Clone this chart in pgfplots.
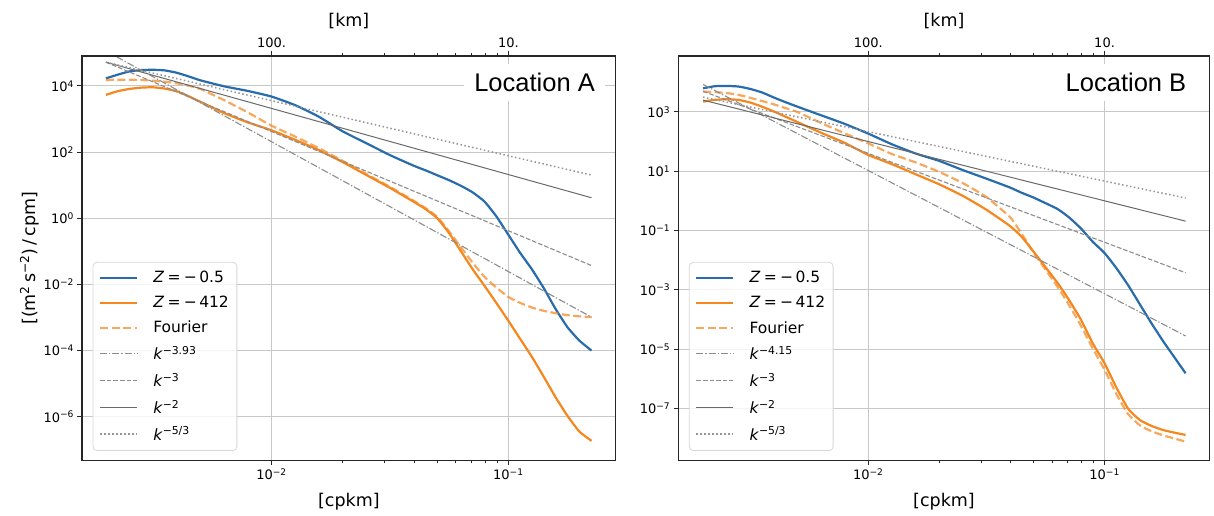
\documentclass[border=0pt]{standalone}
\usepackage{fontspec}
\setmainfont{DejaVu Sans}
\newfontfamily\locfont{Liberation Sans}
\usepackage{pgfplots}
\usepackage{pgfplotstable}
\pgfplotsset{compat=1.18}

\definecolor{cblue}{RGB}{40,108,172}
\definecolor{corange}{RGB}{245,135,30}
\definecolor{gridc}{RGB}{200,200,200}
\definecolor{gdashdot}{RGB}{140,140,140}
\definecolor{gdash}{RGB}{140,140,140}
\definecolor{gsolid}{RGB}{105,105,105}
\definecolor{gdot}{RGB}{150,150,150}
\definecolor{legc}{RGB}{215,215,215}

\pgfplotstableread{
x blue orange fourier
0.002 1.698e4 5.370e3 1.514e4
0.002239 2.188e4 6.918e3 1.549e4
0.002512 2.754e4 8.128e3 1.549e4
0.002818 3.020e4 8.913e3 1.514e4
0.003162 3.090e4 9.120e3 1.445e4
0.003548 2.951e4 8.318e3 1.349e4
0.003981 2.512e4 6.918e3 1.202e4
0.004467 1.950e4 4.898e3 1.023e4
0.005012 1.479e4 3.311e3 8.128e3
0.006310 9.772e3 1.514e3 3.715e3
0.007943 7.079e3 794.3 1.585e3
0.01 4.786e3 457.1 631.0
0.012589 2.630e3 234.4 295.1
0.015849 1.175e3 114.8 131.8
0.019953 426.6 50.12 54.95
0.025119 186.2 20.42 21.88
0.031623 81.28 8.318 8.913
0.039811 38.90 3.162 3.388
0.044668 28.18 1.905 2.042
0.050119 19.95 1.0 1.096
0.056234 14.13 0.3548 0.3981
0.063096 9.550 0.1 0.1318
0.070795 6.026 0.02818 0.04467
0.079433 3.162 8.913e-3 0.01660
0.089125 1.122 2.692e-3 7.943e-3
0.1 0.3162 7.943e-4 4.169e-3
0.112202 0.08913 2.239e-4 2.754e-3
0.125893 0.02818 6.310e-5 1.995e-3
0.141254 7.586e-3 1.585e-5 1.585e-3
0.158489 1.778e-3 3.802e-6 1.349e-3
0.177828 5.012e-4 1.047e-6 1.175e-3
0.199526 1.995e-4 3.548e-7 1.084e-3
0.224388 1.0e-4 1.862e-7 1.023e-3
}\tableA

\pgfplotstableread{
x blue orange fourier
0.002 6.310e3 2.239e3 4.898e3
0.002239 7.413e3 2.570e3 4.677e3
0.002512 7.586e3 2.692e3 4.365e3
0.002818 7.244e3 2.570e3 3.802e3
0.003162 6.026e3 2.089e3 3.020e3
0.003548 4.571e3 1.514e3 2.344e3
0.003981 3.090e3 1.047e3 1.820e3
0.004467 2.138e3 691.8 1.349e3
0.005012 1.514e3 457.1 1.0e3
0.006310 776.2 199.5 426.6
0.007943 398.1 91.20 190.5
0.01 186.2 35.48 87.10
0.012589 81.28 17.38 38.02
0.015849 39.81 7.943 19.95
0.019953 22.39 3.631 9.550
0.025119 10.96 1.479 3.981
0.031623 5.623 0.5012 1.349
0.039811 2.818 0.1413 0.2818
0.044668 1.862 0.06026 0.07586
0.050119 1.288 0.01905 0.01778
0.063096 0.5370 1.738e-3 1.288e-3
0.070795 0.2754 4.467e-4 3.020e-4
0.079433 0.1175 9.772e-5 6.166e-5
0.089125 0.04169 1.549e-5 1.047e-5
0.1 0.01738 3.311e-6 1.995e-6
0.112202 5.370e-3 5.012e-7 3.020e-7
0.125893 1.413e-3 9.550e-8 6.310e-8
0.141254 3.162e-4 3.981e-8 2.630e-8
0.158489 7.079e-5 2.512e-8 1.660e-8
0.177828 1.738e-5 1.820e-8 1.202e-8
0.199526 4.677e-6 1.479e-8 9.333e-9
0.220293 1.514e-6 1.259e-8 7.413e-9
}\tableB

\tikzset{
  sblue/.style={cblue, line width=2.2pt},
  sorange/.style={corange, line width=2.2pt},
  sfourier/.style={corange, draw opacity=0.72, line width=2.2pt, dash pattern=on 8pt off 3.5pt},
  sdashdot/.style={gdashdot, line width=1.1pt, dash pattern=on 7pt off 2pt on 1.3pt off 2pt},
  sdash/.style={gdash, line width=1.1pt, dash pattern=on 4.6pt off 2pt},
  ssolid/.style={gsolid, line width=1.0pt},
  sdot/.style={gdot, line width=1.5pt, dash pattern=on 1.5pt off 2.5pt},
}

\pgfplotsset{
  every axis/.append style={
    scale only axis,
    axis line style={line width=1.3pt, black!85},
    tick align=outside,
    major tick length=4.5pt, minor tick length=2.6pt,
    every tick/.style={black!85, line width=1pt},
    tick label style={font=\fontsize{13}{15}\selectfont},
    every axis label/.append style={font=\fontsize{17.5}{20}\selectfont},
  },
  legend image code/.code={\draw[#1] (0pt,0pt) -- (37pt,0pt);},
}

\begin{document}
\begin{tikzpicture}
\useasboundingbox (0,0) rectangle (1214pt,515pt);

% ---------------- Location A ----------------
\begin{axis}[at={(82pt,54.3pt)}, anchor=south west,
  width=533.7pt, height=404.7pt,
  xmode=log, ymode=log,
  xtick pos=bottom, ytick pos=left,
  yminorticks=false,
  grid=major, major grid style={gridc, line width=1pt},
  xmin=1.585e-3, xmax=0.2838, ymin=4.677e-8, ymax=8.054e4,
  xtick={0.01,0.1}, xticklabels={10\textsuperscript{−2},10\textsuperscript{−1}},
  ytick={1e4,1e2,1,1e-2,1e-4,1e-6},
  yticklabels={10\textsuperscript{4},10\textsuperscript{2},10\textsuperscript{0},10\textsuperscript{−2},10\textsuperscript{−4},10\textsuperscript{−6}},
  xlabel={[cpkm]},
  xlabel style={at={(axis description cs:0.5,-0.1013)}, anchor=center},
  ylabel={[(m\textsuperscript{2}\,s\textsuperscript{−2})\,/\,cpm]},
  ylabel style={at={(axis description cs:-0.0984,0.5)}, anchor=center},
  legend cell align=left,
  legend style={at={(0.02,0.024)}, anchor=south west,
    draw=legc, line width=0.8pt, rounded corners=4pt,
    fill=white, fill opacity=0.8, text opacity=1, draw opacity=1,
    font=\fontsize{15.5}{18}\selectfont,
    inner xsep=6pt, inner ysep=7pt, row sep=8pt, column sep=13pt},
]
\addplot[sblue, smooth, tension=0.3] table[x=x, y=blue] {\tableA};
\addlegendentry{\textit{Z}\hspace{0.22em}=\hspace{0.22em}−\hspace{0.15em}0.5}
\addplot[sorange, smooth, tension=0.3] table[x=x, y=orange] {\tableA};
\addlegendentry{\textit{Z}\hspace{0.22em}=\hspace{0.22em}−\hspace{0.15em}412}
\addplot[sfourier, smooth, tension=0.3] table[x=x, y=fourier] {\tableA};
\addlegendentry{Fourier}
\addplot[sdashdot] coordinates {(0.002,1.148e5) (0.224388,1.023e-3)};
\addlegendentry{\textit{k}\textsuperscript{−3.93}}
\addplot[sdash] coordinates {(0.002,5.248e4) (0.224388,0.03715)};
\addlegendentry{\textit{k}\textsuperscript{−3}}
\addplot[ssolid] coordinates {(0.002,5.248e4) (0.224388,4.169)};
\addlegendentry{\textit{k}\textsuperscript{−2}}
\addplot[sdot] coordinates {(0.002,5.248e4) (0.224388,20.18)};
\addlegendentry{\textit{k}\textsuperscript{−5/3}}
\node[anchor=base east, fill=white, inner xsep=10pt, inner ysep=9pt,
  font=\locfont\fontsize{25.5}{30}\selectfont] at (rel axis cs:0.98,0.912) {Location A};
\end{axis}
\begin{axis}[at={(82pt,54.3pt)}, anchor=south west,
  width=533.7pt, height=404.7pt, xmode=log,
  xmin=1.585e-3, xmax=0.2838, ymin=0, ymax=1,
  hide y axis, xtick pos=top, xticklabel pos=top,
  xtick={0.01,0.1}, xticklabels={100.,10.},
  xlabel={[km]},
  xlabel style={at={(axis description cs:0.5,1.0865)}, anchor=center}]
\addplot[draw=none, forget plot] coordinates {(0.01,0.5)};
\end{axis}

% ---------------- Location B ----------------
\begin{axis}[at={(678.3pt,54.3pt)}, anchor=south west,
  width=531.4pt, height=404.7pt,
  xmode=log, ymode=log,
  xtick pos=bottom, ytick pos=left,
  yminorticks=false,
  grid=major, major grid style={gridc, line width=1pt},
  xmin=1.570e-3, xmax=0.2786, ymin=1.698e-9, ymax=7.762e4,
  xtick={0.01,0.1}, xticklabels={10\textsuperscript{−2},10\textsuperscript{−1}},
  ytick={1e3,1e1,1e-1,1e-3,1e-5,1e-7},
  yticklabels={10\textsuperscript{3},10\textsuperscript{1},10\textsuperscript{−1},10\textsuperscript{−3},10\textsuperscript{−5},10\textsuperscript{−7}},
  xlabel={[cpkm]},
  xlabel style={at={(axis description cs:0.5,-0.1013)}, anchor=center},
  legend cell align=left,
  legend style={at={(0.02,0.024)}, anchor=south west,
    draw=legc, line width=0.8pt, rounded corners=4pt,
    fill=white, fill opacity=0.8, text opacity=1, draw opacity=1,
    font=\fontsize{15.5}{18}\selectfont,
    inner xsep=6pt, inner ysep=7pt, row sep=8pt, column sep=13pt},
]
\addplot[sblue, smooth, tension=0.3] table[x=x, y=blue] {\tableB};
\addlegendentry{\textit{Z}\hspace{0.22em}=\hspace{0.22em}−\hspace{0.15em}0.5}
\addplot[sorange, smooth, tension=0.3] table[x=x, y=orange] {\tableB};
\addlegendentry{\textit{Z}\hspace{0.22em}=\hspace{0.22em}−\hspace{0.15em}412}
\addplot[sfourier, smooth, tension=0.3] table[x=x, y=fourier] {\tableB};
\addlegendentry{Fourier}
\addplot[sdashdot] coordinates {(0.002,8.511e3) (0.220293,2.754e-5)};
\addlegendentry{\textit{k}\textsuperscript{−4.15}}
\addplot[sdash] coordinates {(0.002,5.012e3) (0.220293,3.75e-3)};
\addlegendentry{\textit{k}\textsuperscript{−3}}
\addplot[ssolid] coordinates {(0.002,2.512e3) (0.220293,0.207)};
\addlegendentry{\textit{k}\textsuperscript{−2}}
\addplot[sdot] coordinates {(0.002,3.162e3) (0.220293,1.250)};
\addlegendentry{\textit{k}\textsuperscript{−5/3}}
\node[anchor=base east, fill=white, inner xsep=10pt, inner ysep=9pt,
  font=\locfont\fontsize{25.5}{30}\selectfont] at (rel axis cs:0.975,0.912) {Location B};
\end{axis}
\begin{axis}[at={(678.3pt,54.3pt)}, anchor=south west,
  width=531.4pt, height=404.7pt, xmode=log,
  xmin=1.570e-3, xmax=0.2786, ymin=0, ymax=1,
  hide y axis, xtick pos=top, xticklabel pos=top,
  xtick={0.01,0.1}, xticklabels={100.,10.},
  xlabel={[km]},
  xlabel style={at={(axis description cs:0.5,1.0865)}, anchor=center}]
\addplot[draw=none, forget plot] coordinates {(0.01,0.5)};
\end{axis}
\end{tikzpicture}
\end{document}
